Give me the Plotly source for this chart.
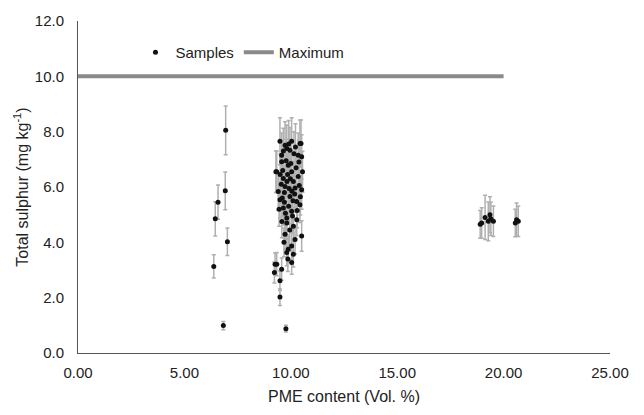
import plotly.graph_objects as go

# Low-PME group
pme_low = [6.94, 6.92, 6.58, 6.45, 7.02, 6.38, 6.83]
sul_low = [8.05, 5.86, 5.45, 4.85, 4.02, 3.13, 0.99]
err_low = [0.88, 0.68, 0.62, 0.62, 0.50, 0.42, 0.15]

# Main group (~10 %)
pme_mid = [9.26, 9.23, 9.49, 9.49, 9.77, 9.30, 10.48, 10.51, 10.51, 10.04, 9.49, 9.81,
           9.81, 10.12, 9.73, 10.04, 9.81, 10.04, 9.34, 9.57, 9.88, 10.12, 9.73, 10.43,
           9.96, 10.35, 9.57, 9.88, 10.51, 9.34, 10.04, 9.65, 10.35, 9.73, 10.20, 9.49,
           9.96, 10.28, 9.65, 10.04, 10.43, 9.81, 10.28, 9.41, 9.57, 10.12, 9.62, 9.70,
           9.85, 9.92, 9.55, 9.78, 10.00, 10.15, 10.25, 10.40, 10.45, 9.60, 9.90, 10.10,
           9.75, 9.95, 10.20, 9.68, 9.86, 10.08, 9.50, 9.45, 10.30, 9.82, 10.05, 9.65,
           9.90, 10.22, 10.38, 9.70, 9.98, 10.18, 9.58, 10.55]
sul_mid = [3.21, 2.91, 2.61, 2.02, 0.88, 6.55, 7.57, 5.90, 4.23, 7.65, 7.65, 7.39,
           4.70, 4.58, 4.29, 3.87, 3.63, 3.27, 3.21, 3.03, 3.75, 3.57, 7.51, 7.57,
           7.33, 7.15, 6.91, 6.79, 7.09, 6.55, 6.55, 6.31, 6.38, 6.02, 5.96, 5.54,
           5.66, 5.48, 5.24, 5.12, 5.36, 4.88, 4.82, 5.84, 7.15, 6.20, 6.60, 5.80,
           6.45, 5.95, 6.10, 6.95, 6.85, 7.20, 6.70, 6.05, 5.65, 5.60, 5.30, 5.50,
           5.05, 4.45, 4.10, 4.00, 3.40, 4.95, 6.45, 5.20, 5.15, 6.20, 5.85, 7.30,
           7.55, 7.45, 6.90, 5.45, 6.30, 5.75, 4.75, 6.55]
err_mid = [0.40, 0.38, 0.35, 0.30, 0.12, 0.75, 0.85, 0.70, 0.55, 0.85, 0.85, 0.85,
           0.58, 0.55, 0.55, 0.50, 0.48, 0.42, 0.42, 0.40, 0.48, 0.46, 0.85, 0.85,
           0.82, 0.80, 0.78, 0.78, 0.80, 0.75, 0.75, 0.72, 0.72, 0.70, 0.70, 0.66,
           0.66, 0.65, 0.62, 0.62, 0.64, 0.60, 0.58, 0.68, 0.80, 0.72, 0.75, 0.68,
           0.74, 0.70, 0.70, 0.78, 0.78, 0.80, 0.76, 0.70, 0.66, 0.66, 0.63, 0.65,
           0.62, 0.56, 0.52, 0.52, 0.45, 0.60, 0.74, 0.62, 0.62, 0.72, 0.68, 0.82,
           0.85, 0.84, 0.78, 0.64, 0.72, 0.67, 0.58, 0.74]

# High-PME groups (~19 % and ~20.5 %)
pme_high = [18.97, 19.36, 19.52, 19.28, 19.13, 19.40, 18.90, 20.69, 20.61, 20.55]
sul_high = [4.70, 5.00, 4.76, 4.76, 4.90, 4.85, 4.65, 4.76, 4.82, 4.70]
err_high = [0.55, 0.65, 0.55, 0.70, 0.80, 0.60, 0.50, 0.55, 0.60, 0.50]

# Maximum limit line
max_x = [0, 20]
max_y = [10.0, 10.0]

x_ticks = [0, 5, 10, 15, 20, 25]
y_ticks = [0, 2, 4, 6, 8, 10, 12]

pme = pme_low + pme_mid + pme_high
sul = sul_low + sul_mid + sul_high
err = err_low + err_mid + err_high

FONT = "Liberation Sans, Arial, sans-serif"

fig = go.Figure()
fig.add_trace(go.Scatter(
    x=pme, y=sul, mode="markers", name="Samples",
    marker=dict(color="#111111", size=5),
    error_y=dict(type="data", array=err, visible=True, color="#b0b0b0",
                 thickness=1.5, width=2),
))
fig.add_trace(go.Scatter(
    x=max_x, y=max_y, mode="lines", name="Maximum",
    line=dict(color="#8a8a8a", width=4),
))

fig.update_layout(
    width=644, height=415,
    margin=dict(l=78, r=34, t=18, b=62),
    paper_bgcolor="white", plot_bgcolor="white",
    font=dict(family=FONT, size=15, color="#222222"),
    showlegend=True,
    legend=dict(orientation="h", x=0.108, y=0.905, xanchor="left", yanchor="middle",
                bgcolor="rgba(0,0,0,0)", font=dict(size=15), itemwidth=30,
                tracegroupgap=0),
)
fig.update_xaxes(
    range=[0, 25], tickvals=x_ticks, tickformat=".2f",
    showgrid=False, zeroline=False, showline=True, linecolor="#555555", linewidth=1,
    ticks="outside", ticklen=6, tickcolor="rgba(0,0,0,0)",
    title=dict(text="PME content (Vol. %)", font=dict(size=16), standoff=10),
)
fig.update_yaxes(
    range=[0, 12], tickvals=y_ticks, tickformat=".1f",
    showgrid=False, zeroline=False, showline=True, linecolor="#555555", linewidth=1,
    ticks="outside", ticklen=10, tickcolor="rgba(0,0,0,0)",
    title=dict(text="Total sulphur (mg kg<sup>-1</sup>)", font=dict(size=16), standoff=2),
)

fig.write_html("out.html")
